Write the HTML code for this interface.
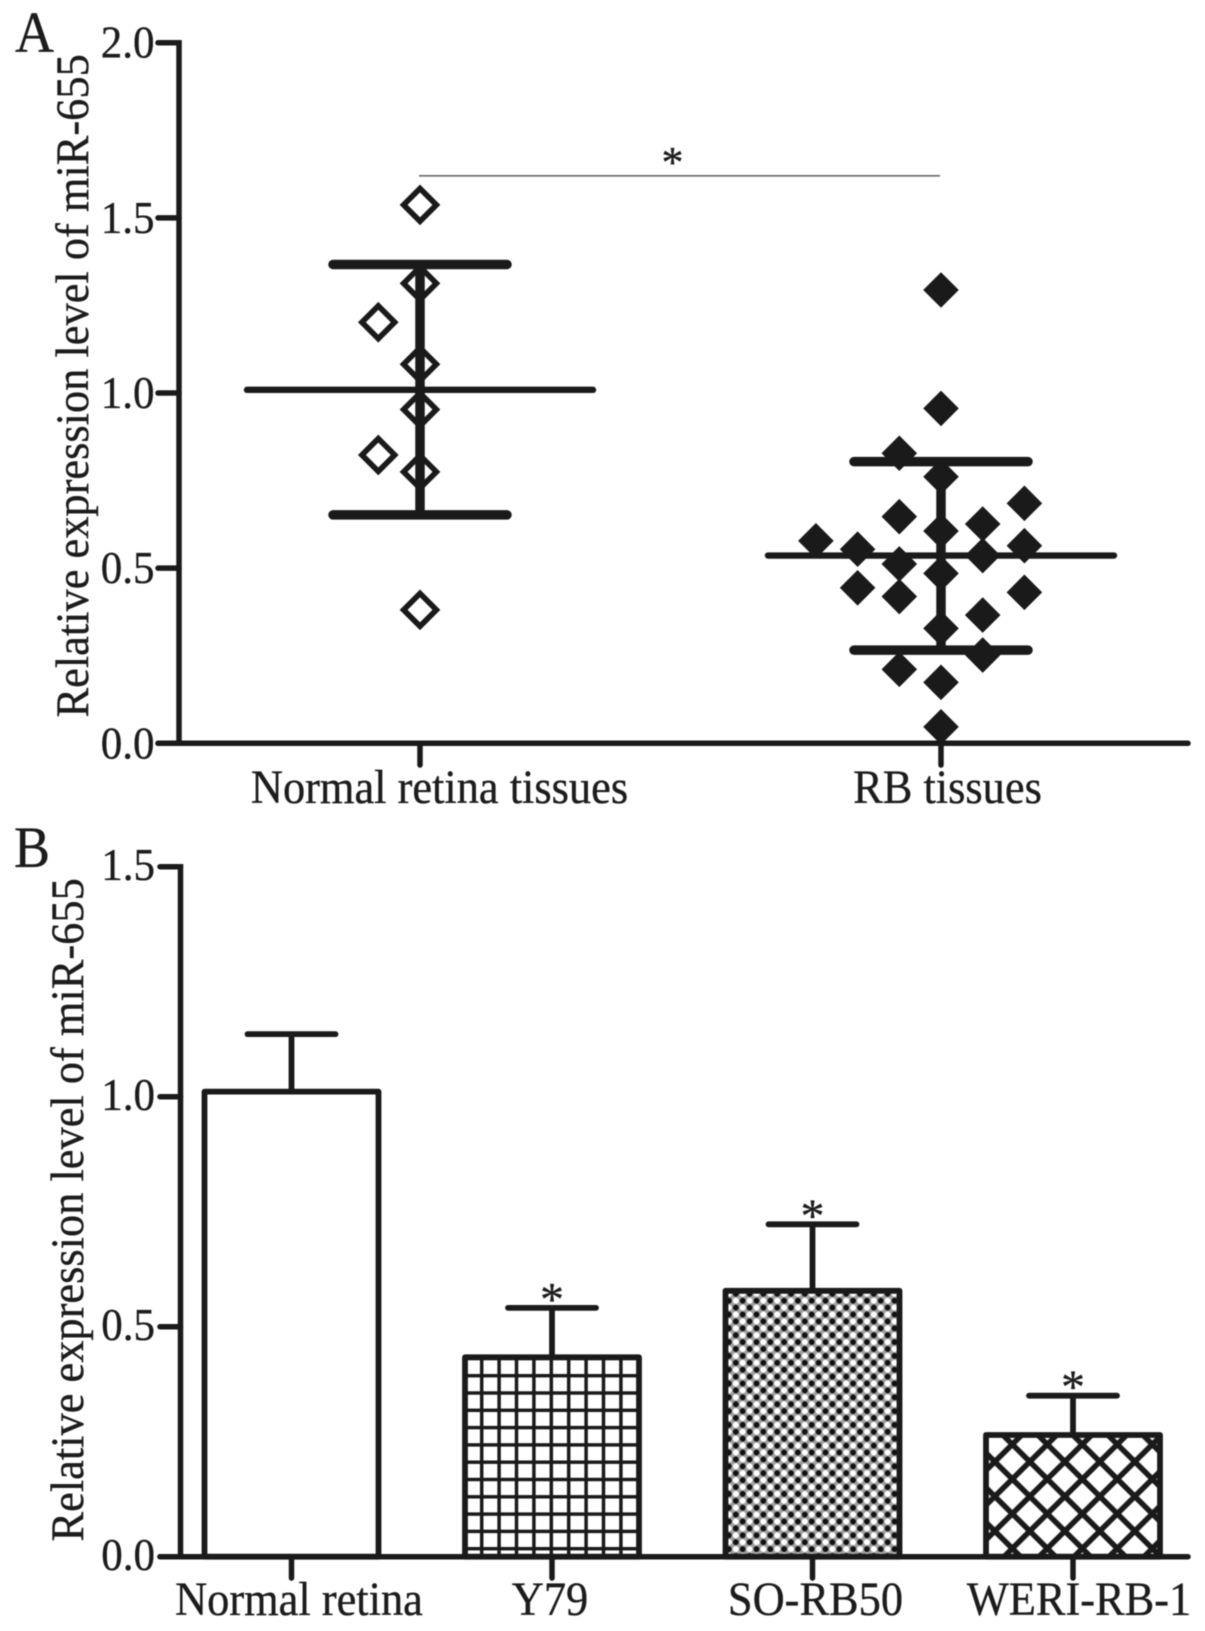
<!DOCTYPE html>
<html lang="en">
<head>
<meta charset="utf-8">
<title>Relative expression level of miR-655</title>
<style>
html,body{margin:0;padding:0;background:#fff;}
svg{display:block;filter:blur(0.55px);}
text{font-family:"Liberation Serif","Times New Roman",serif;fill:#1c1c1c;stroke:#1c1c1c;stroke-width:0.35px;}
</style>
</head>
<body>
<svg id="figure" xmlns="http://www.w3.org/2000/svg" width="1205" height="1631" viewBox="0 0 1205 1631">
  <defs>
    <pattern id="hatch-grid" patternUnits="userSpaceOnUse" x="473" y="1367.05" width="17.4" height="17.3">
      <rect width="17.4" height="17.3" fill="#fff"/>
      <path d="M8.7 0V17.3M0 8.65H17.4" stroke="#1a1a1a" stroke-width="3.5" fill="none"/>
    </pattern>
    <pattern id="hatch-dots" patternUnits="userSpaceOnUse" x="739.25" y="1297.25" width="13.8" height="13.8">
      <rect width="13.8" height="13.8" fill="#a0a0a0"/>
      <circle cx="3.45" cy="3.45" r="2.9" fill="#111"/>
      <circle cx="10.35" cy="10.35" r="2.9" fill="#111"/>
      <circle cx="10.35" cy="3.45" r="3" fill="#fff"/>
      <circle cx="3.45" cy="10.35" r="3" fill="#fff"/>
    </pattern>
    <pattern id="hatch-cross" patternUnits="userSpaceOnUse" x="1012.3" y="1444.35" width="35" height="34.7">
      <rect width="35" height="34.7" fill="#fff"/>
      <path d="M0 0L35 34.7M35 0L0 34.7M-35 0L0 34.7M0 -34.7L35 0M70 0L35 34.7M35 -34.7L0 0M0 34.7L35 69.4M35 34.7L0 69.4" stroke="#1a1a1a" stroke-width="5.5" fill="none"/>
    </pattern>
  </defs>
  <g id="panel-a"></g>
  <g id="panel-b"></g>
</svg>
<script>
// Panel A data
const aTicks = [0, 0.5, 1, 1.5, 2];
const aTickLabels = ["0.0", "0.5", "1.0", "1.5", "2.0"];
const aCategories = ["Normal retina tissues", "RB tissues"];
const normalValues = [1.537, 1.313, 1.202, 1.082, 0.953, 0.823, 0.775, 0.381];
const normalSlots = [0, 0, -1, 0, 0, -1, 0, 0];
const rbValues = [1.294, 0.956, 0.828, 0.761, 0.685, 0.647, 0.626, 0.606, 0.578, 0.554, 0.564, 0.536, 0.512, 0.485, 0.444, 0.419, 0.431, 0.366, 0.328, 0.252, 0.211, 0.174, 0.047];
const rbSlots = [0, 0, -1, 0, 2, -1, 1, 0, -3, -2, 2, 1, -1, 0, -2, -1, 2, 1, 0, 1, -1, 0, 0];
const aMeans = [1.009, 0.536];
const aUpper = [1.367, 0.804];
const aLower = [0.652, 0.266];
const aBracketValue = 1.62;

// Panel B data
const bTicks = [0, 0.5, 1, 1.5];
const bTickLabels = ["0.0", "0.5", "1.0", "1.5"];
const bCategories = ["Normal retina", "Y79", "SO-RB50", "WERI-RB-1"];
const bMeans = [1.011, 0.4335, 0.578, 0.2646];
const bErrorTops = [1.136, 0.541, 0.7226, 0.35];
const bSignificant = [false, true, true, true];

const SVGNS = "http://www.w3.org/2000/svg";
const INK = "#1a1a1a";
const TEXT_STRETCH = 1.07;
function mk(parent, tag, attrs, content) {
  const el = document.createElementNS(SVGNS, tag);
  for (const k in attrs) el.setAttribute(k, attrs[k]);
  if (content !== undefined) el.textContent = content;
  parent.appendChild(el);
  return el;
}
function label(parent, x, y, size, anchor, content) {
  return mk(parent, "text", {transform: "translate(" + x + "," + y + ") scale(1," + TEXT_STRETCH + ")", "font-size": size, "text-anchor": anchor}, content);
}
function hline(parent, x1, x2, y, w, cap) {
  return mk(parent, "line", {x1: x1, x2: x2, y1: y, y2: y, stroke: INK, "stroke-width": w, "stroke-linecap": cap || "butt"});
}
function vline(parent, x, y1, y2, w, cap) {
  return mk(parent, "line", {x1: x, x2: x, y1: y1, y2: y2, stroke: INK, "stroke-width": w, "stroke-linecap": cap || "butt"});
}
function diamondPath(cx, cy, r) {
  return "M" + cx + " " + (cy - r) + "L" + (cx + r) + " " + cy + "L" + cx + " " + (cy + r) + "L" + (cx - r) + " " + cy + "Z";
}

/* ---------- Panel A ---------- */
const panelA = document.getElementById("panel-a");
const aZeroY = 743.3, aUnit = 350.3, aAxisX = 179;
const aCenter = [420, 941];
const aSlotStep = 41.7;
function yA(v) { return aZeroY - v * aUnit; }
function xA(i) { return aCenter[i]; }

const aLetter = label(panelA, 15, 52, 54, "start", "A");



const aTitle = mk(panelA, "text", {transform: "translate(88,717.5) rotate(-90) scale(1,1.05)", "font-size": 44.4}, "Relative expression level of miR-655");



const aYAxis = vline(panelA, aAxisX, yA(2) - 2.7, yA(0) + 2.7, 5.5);



const aXAxis = hline(panelA, 158, 1188, yA(0), 5.5, "round");



aTicks.forEach(function (t, i) {
  const tick = hline(panelA, 158, aAxisX, yA(t), 5.5, "round");
  
  
  const tickLabel = label(panelA, 154.5, yA(t) + 15, 43, "end", aTickLabels[i]);
  
  
});

const aLabelShift = [19.5, 6.5];
aCategories.forEach(function (c, i) {
  const tick = vline(panelA, xA(i), yA(0), 765, 5.5, "round");
  
  
  const catLabel = label(panelA, xA(i) + aLabelShift[i], 803, 44.4, "middle", c);
  
  
});

normalValues.forEach(function (v, i) {
  const d = mk(panelA, "path", {d: diamondPath(xA(0) + normalSlots[i] * aSlotStep, yA(v), 16.4), fill: "none", stroke: INK, "stroke-width": 5.6});
  
  
});

rbValues.forEach(function (v, i) {
  const d = mk(panelA, "path", {d: diamondPath(xA(1) + rbSlots[i] * aSlotStep, yA(v), 17.8), fill: INK});
  
  
});

aMeans.forEach(function (m, i) {
  const meanLine = hline(panelA, xA(i) - 173, xA(i) + 173, yA(m), 6.4, "round");
  
  
  const stem = vline(panelA, xA(i), yA(aUpper[i]), yA(aLower[i]), 9.5);
  
  
  const capTop = hline(panelA, xA(i) - 87, xA(i) + 87, yA(aUpper[i]), 9.5, "round");
  
  
  const capBottom = hline(panelA, xA(i) - 87, xA(i) + 87, yA(aLower[i]), 9.5, "round");
  
  
});

const bracket = mk(panelA, "line", {x1: xA(0) - 1, x2: xA(1) - 1, y1: yA(aBracketValue), y2: yA(aBracketValue), stroke: "#666", "stroke-width": 1.6});



const aStar = mk(panelA, "text", {x: (xA(0) + xA(1)) / 2 - 8, y: yA(aBracketValue) + 1, "text-anchor": "middle", "font-size": 44}, "*");



/* ---------- Panel B ---------- */
const panelB = document.getElementById("panel-b");
const bZeroY = 1556.7, bUnit = 460, bAxisX = 180.5;
const bFirstX = 291.5, bStepX = 260.5, bBarWidth = 174;
const bFills = ["#fff", "url(#hatch-grid)", "url(#hatch-dots)", "url(#hatch-cross)"];
function yB(v) { return bZeroY - v * bUnit; }
function xB(i) { return bFirstX + i * bStepX; }

const bLetter = label(panelB, 14, 867, 54, "start", "B");



const bTitle = mk(panelB, "text", {transform: "translate(83,1541.5) rotate(-90) scale(1,1.05)", "font-size": 44.4}, "Relative expression level of miR-655");



bMeans.forEach(function (m, i) {
  const stem = vline(panelB, xB(i), yB(bErrorTops[i]), yB(m), 5.8);
  
  
  const cap = hline(panelB, xB(i) - 44, xB(i) + 44, yB(bErrorTops[i]), 5.8, "round");
  
  
  const bar = mk(panelB, "rect", {x: xB(i) - bBarWidth / 2, y: yB(m), width: bBarWidth, height: bZeroY - yB(m), fill: bFills[i], stroke: INK, "stroke-width": 5.8, "stroke-linejoin": "round"});
  
  
  if (bSignificant[i]) {
    const star = mk(panelB, "text", {x: xB(i), y: yB(bErrorTops[i]) + 7.5, "text-anchor": "middle", "font-size": 48}, "*");
    
    
  }
});

const bYAxis = vline(panelB, bAxisX, yB(1.5) - 2.7, yB(0) + 2.7, 5.5);



const bXAxis = hline(panelB, 160, 1188, yB(0), 5.5, "round");



bTicks.forEach(function (t, i) {
  const tick = hline(panelB, 160, bAxisX, yB(t), 5.5, "round");
  
  
  const tickLabel = label(panelB, 155, yB(t) + 13.5, 43, "end", bTickLabels[i]);
  
  
});

const bLabelShift = [7.5, -2, 3, 6];
bCategories.forEach(function (c, i) {
  const tick = vline(panelB, xB(i), yB(0), 1578, 5.5, "round");
  
  
  const catLabel = label(panelB, xB(i) + bLabelShift[i], 1615, 44.4, "middle", c);
  
  
});
</script>
</body>
</html>
